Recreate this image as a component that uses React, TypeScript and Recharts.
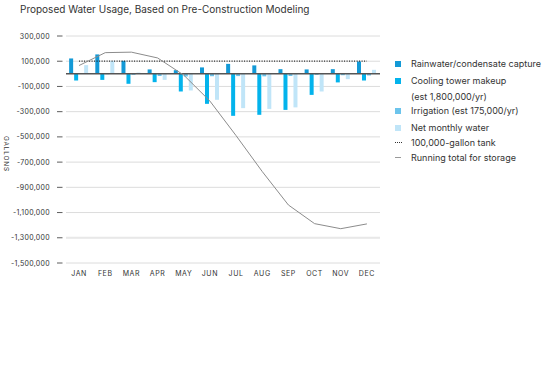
import React from "react";
import { ComposedChart, Bar, Line, XAxis, YAxis, CartesianGrid, ReferenceLine } from "recharts";

const months = ["JAN", "FEB", "MAR", "APR", "MAY", "JUN", "JUL", "AUG", "SEP", "OCT", "NOV", "DEC"];
const rainwater = [122000, 154000, 103000, 35000, 29000, 51000, 79000, 67000, 37000, 35000, 37000, 98000];
const cooling = [-53000, -48000, -79000, -66000, -140000, -238000, -333000, -325000, -286000, -167000, -68000, -53000];
const irrigation = [0, -3000, -8000, -17000, -21000, -19000, -18000, -20000, -17000, -8000, -11000, -13000];
const netMonthly = [69000, 103000, 10000, -48000, -132000, -206000, -272000, -278000, -266000, -140000, -42000, 32000];
const tank = [100000, 100000, 100000, 100000, 100000, 100000, 100000, 100000, 100000, 100000, 100000, 100000];
const runningTotal = [66000, 168000, 172000, 126000, -10000, -216000, -490000, -775000, -1040000, -1188000, -1228000, -1190000];
const yTicks = [300000, 100000, -100000, -300000, -500000, -700000, -900000, -1100000, -1300000, -1500000];

const COLORS = {
  rain: "#1399d6",
  cooling: "#03b3ec",
  irrigation: "#6cc4ec",
  net: "#c0e5f8",
};

const data = months.map((m, i) => ({
  month: m,
  rain: rainwater[i],
  cooling: cooling[i],
  irrigation: irrigation[i],
  net: netMonthly[i],
  tank: tank[i],
  total: runningTotal[i],
}));

const FONT = "Inter, 'Noto Sans', sans-serif";

const YTick = ({ x, y, payload }: any) => (
  <g>
    <text x={x - 16} y={y} dy={2.5} textAnchor="end" fontSize={7} letterSpacing={0.3} fill="#333" fontFamily={FONT}>
      {payload.value.toLocaleString("en-US")}
    </text>
    <line x1={x - 9} x2={x - 3.5} y1={y} y2={y} stroke="#333" strokeWidth={0.8} />
  </g>
);

const XTick = ({ x, y, payload }: any) => (
  <text x={x} y={y + 10.5} textAnchor="middle" fontSize={7} letterSpacing={0.6} fill="#333" fontFamily={FONT}>
    {payload.value}
  </text>
);

const legendRows = [
  { y: 63.5, kind: "box", color: COLORS.rain, label: "Rainwater/condensate capture" },
  { y: 80.5, kind: "box", color: COLORS.cooling, label: "Cooling tower makeup" },
  { y: 96, kind: "none", color: "", label: "(est 1,800,000/yr)" },
  { y: 110.5, kind: "box", color: COLORS.irrigation, label: "Irrigation (est 175,000/yr)" },
  { y: 127.5, kind: "box", color: COLORS.net, label: "Net monthly water" },
  { y: 142.5, kind: "dots", color: "#333", label: "100,000-gallon tank" },
  { y: 157, kind: "dash", color: "#999", label: "Running total for storage" },
];

export default function App() {
  return (
    <div style={{ position: "absolute", left: 0, top: 0, width: 551, height: 367, background: "#fff", fontFamily: FONT }}>
      <div style={{ position: "absolute", left: 20, top: 3, fontSize: 10, color: "#333", whiteSpace: "nowrap" }}>
        Proposed Water Usage, Based on Pre-Construction Modeling
      </div>
      <div
        style={{
          position: "absolute",
          left: 6,
          top: 154,
          transform: "translate(-50%, -50%) rotate(90deg)",
          fontSize: 6.5,
          letterSpacing: 0.8,
          color: "#333",
          whiteSpace: "nowrap",
        }}
      >
        GALLONS
      </div>
      <ComposedChart
        width={551}
        height={367}
        data={data}
        margin={{ top: 36, right: 171, bottom: 84, left: 0 }}
        barCategoryGap="12%"
        barGap={1}
      >
        <CartesianGrid vertical={false} stroke="#dcdcdc" />
        <ReferenceLine y={-1300000} stroke="#e8e8e8" strokeWidth={2} />
        <XAxis dataKey="month" tick={<XTick />} tickLine={false} axisLine={false} tickSize={0} height={20} interval={0} />
        <YAxis
          domain={[-1500000, 300000]}
          ticks={yTicks}
          tick={<YTick />}
          tickLine={false}
          axisLine={false}
          tickSize={0}
          tickMargin={0}
          width={66}
          interval={0}
        />
        <Bar dataKey="rain" fill={COLORS.rain} isAnimationActive={false} />
        <Bar dataKey="cooling" fill={COLORS.cooling} isAnimationActive={false} />
        <Bar dataKey="irrigation" fill={COLORS.irrigation} isAnimationActive={false} />
        <Bar dataKey="net" fill={COLORS.net} isAnimationActive={false} />
        <ReferenceLine y={0} stroke="#555" strokeWidth={1.5} />
        <Line dataKey="tank" stroke="#222" strokeWidth={1.2} strokeDasharray="1 1.5" dot={false} isAnimationActive={false} />
        <Line dataKey="total" stroke="#8c8c8c" strokeWidth={1} dot={false} type="linear" isAnimationActive={false} />
      </ComposedChart>
      {legendRows.map((r) => (
        <div key={r.label} style={{ position: "absolute", left: 393, top: r.y - 6, height: 12, display: "flex", alignItems: "center" }}>
          <div style={{ width: 18, display: "flex", alignItems: "center" }}>
            {r.kind === "box" && <div style={{ width: 6, height: 6, marginLeft: 2, background: r.color }} />}
            {r.kind === "dots" && <div style={{ width: 7, marginLeft: 2, borderTop: "1.2px dotted #333" }} />}
            {r.kind === "dash" && <div style={{ width: 6, marginLeft: 2, borderTop: "1px solid #999" }} />}
          </div>
          <span style={{ fontSize: 9, color: "#333", whiteSpace: "nowrap" }}>{r.label}</span>
        </div>
      ))}
    </div>
  );
}
